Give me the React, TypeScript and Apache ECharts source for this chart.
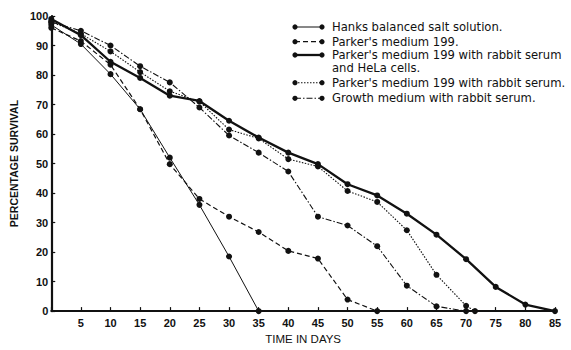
import React, { useEffect, useRef } from "react";
import * as echarts from "echarts";

const seriesNames = [
  "Hanks balanced salt solution.",
  "Parker's medium 199.",
  "Parker's medium 199 with rabbit serum and HeLa cells.",
  "Parker's medium 199 with rabbit serum.",
  "Growth medium with rabbit serum.",
];
const legendLabels = [
  "Hanks balanced salt solution.",
  "Parker's medium 199.",
  "Parker's medium 199 with rabbit serum\nand HeLa cells.",
  "Parker's medium 199 with rabbit serum.",
  "Growth medium with rabbit serum.",
];

const hanksDays = [0, 5, 10, 15, 20, 25, 30, 35];
const hanksSurvival = [97, 90.5, 80.3, 68.4, 52, 36, 18.5, 0];

const parkerDays = [0, 5, 10, 15, 20, 25, 30, 35, 40, 45, 50, 55];
const parkerSurvival = [96, 91.5, 83.5, 68.4, 49.8, 38, 32, 26.8, 20.4, 17.8, 3.9, 0];

const helaDays = [0, 5, 10, 15, 20, 25, 30, 35, 40, 45, 50, 55, 60, 65, 70, 75, 80, 85];
const helaSurvival = [99, 93.5, 84.5, 79, 73, 71.2, 64.5, 58.8, 53.7, 49.8, 43, 39.2, 33, 25.9, 17.6, 8.2, 2.2, 0];

const serumDays = [0, 5, 10, 15, 20, 25, 30, 35, 40, 45, 50, 55, 60, 65, 70, 71.5];
const serumSurvival = [98, 94, 88, 81, 74.5, 71, 61.5, 58.5, 51.5, 49, 40.7, 37, 27.4, 12.3, 1.8, 0];

const growthDays = [0, 5, 10, 15, 20, 25, 30, 35, 40, 45, 50, 55, 60, 65, 70];
const growthSurvival = [98, 95, 90, 83, 77.5, 69, 59.5, 53.7, 47.3, 32, 29, 22, 8.6, 1.6, 0];

const allDays = [hanksDays, parkerDays, helaDays, serumDays, growthDays];
const allSurvival = [hanksSurvival, parkerSurvival, helaSurvival, serumSurvival, growthSurvival];

const lineStyles: any[] = [
  { width: 1, type: "solid" },
  { width: 1.2, type: [5, 3] },
  { width: 2.3, type: "solid" },
  { width: 1.1, type: [1.5, 1.5] },
  { width: 1.1, type: [6, 2, 1.5, 2] },
];

export default function App() {
  const ref = useRef<HTMLDivElement>(null);
  useEffect(() => {
    if (!ref.current) return;
    const chart = echarts.init(ref.current, null, { renderer: "svg" });
    const zip = (d: number[], v: number[]) => d.map((x, i) => [x, v[i]]);
    const series = seriesNames.map((name, i) => ({
      name,
      type: "line",
      data: zip(allDays[i], allSurvival[i]),
      symbol: "circle",
      symbolSize: 6,
      itemStyle: { color: "#111" },
      lineStyle: { color: "#111", width: lineStyles[i].width, type: lineStyles[i].type },
      z: 3,
    }));

    const rowY = [27, 41.7, 55, 82.7, 98.3];
    const legendGraphics: any[] = [];
    legendLabels.forEach((label, i) => {
      const y = rowY[i];
      const ls = lineStyles[i];
      legendGraphics.push({
        type: "line",
        shape: { x1: 295, y1: y, x2: 322, y2: y },
        style: {
          stroke: "#111",
          lineWidth: ls.width,
          lineDash: Array.isArray(ls.type) ? ls.type : null,
        },
      });
      legendGraphics.push({ type: "circle", shape: { cx: 295, cy: y, r: 2.6 }, style: { fill: "#111" } });
      legendGraphics.push({ type: "circle", shape: { cx: 322, cy: y, r: 2.6 }, style: { fill: "#111" } });
      legendGraphics.push({
        type: "text",
        x: 332,
        y: y - 6.7,
        style: {
          text: label,
          fill: "#111",
          font: "11.6px 'DejaVu Sans'",
          lineHeight: 13.4,
          verticalAlign: "top",
          align: "left",
        },
      });
    });

    chart.setOption({
      animation: false,
      backgroundColor: "#fff",
      grid: { left: 51, right: 16, top: 16, bottom: 37, containLabel: false },
      xAxis: {
        type: "value",
        min: 0,
        max: 85,
        interval: 5,
        name: "TIME IN DAYS",
        nameLocation: "middle",
        nameGap: 20,
        nameTextStyle: { color: "#111", fontFamily: "Liberation Sans", fontSize: 11.5 },
        axisLine: { show: true, lineStyle: { color: "#111", width: 2 } },
        axisTick: { show: true, inside: true, length: 4, lineStyle: { color: "#111", width: 1.2 } },
        axisLabel: {
          color: "#111",
          fontFamily: "Liberation Sans",
          fontWeight: "bold",
          fontSize: 11,
          margin: 6,
          formatter: (v: number) => (v === 0 ? "" : String(v)),
        },
        splitLine: { show: false },
      },
      yAxis: {
        type: "value",
        min: 0,
        max: 100,
        interval: 10,
        name: "PERCENTAGE SURVIVAL",
        nameLocation: "middle",
        nameGap: 21,
        nameTextStyle: { color: "#111", fontFamily: "Liberation Sans", fontWeight: "bold", fontSize: 10.5 },
        axisLine: { show: true, lineStyle: { color: "#111", width: 2.2 } },
        axisTick: { show: true, inside: true, length: 4, lineStyle: { color: "#111", width: 1.2 } },
        axisLabel: {
          color: "#111",
          fontFamily: "Liberation Sans",
          fontWeight: "bold",
          fontSize: 11,
          margin: 3,
        },
        splitLine: { show: false },
      },
      graphic: legendGraphics,
      series,
    });
    return () => chart.dispose();
  }, []);
  return (
    <div
      ref={ref}
      style={{ position: "fixed", left: 0, top: 0, width: 571, height: 350, background: "#fff" }}
    />
  );
}
